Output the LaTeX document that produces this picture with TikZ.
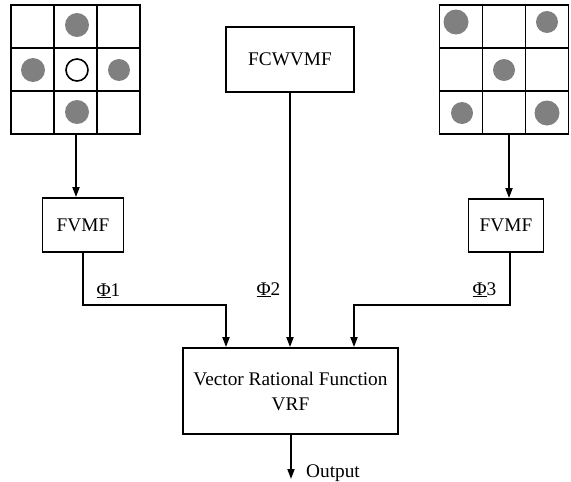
\documentclass[tikz,border=0pt]{standalone}
\usepackage{fontspec}
\setmainfont{Liberation Serif}
\usetikzlibrary{arrows.meta, positioning}
\definecolor{dotgray}{RGB}{128,128,128}

\begin{document}
\begin{tikzpicture}[x=1pt, y=-1pt, every node/.style={font=\fontsize{19.3}{25}\selectfont},
    block/.style={draw, line width=1.8pt, align=center, inner sep=2pt},
    gridbox/.style={draw, line width=1.8pt, minimum size=129pt, inner sep=0pt},
    gridline/.style={line width=1.8pt},
    flow/.style={line width=1.8pt, -{Triangle[length=10pt, width=7pt]}}]
    \useasboundingbox (0,0) rectangle (571,482);

    % the two 3x3 windows
    \node[gridbox] (lgrid) at (75.5,69.5) {};
    \node[gridbox] (rgrid) at (504,69.5) {};
    \foreach \g in {lgrid, rgrid}
        \foreach \d in {-21.5, 21.5} {
            \draw[gridline] ([xshift=\d pt]\g.north) -- ([xshift=\d pt]\g.south);
            \draw[gridline] ([yshift=\d pt]\g.west) -- ([yshift=\d pt]\g.east);
        }
    \fill[dotgray] (77,25) circle (12pt) (33,70) circle (12pt) (119,70) circle (11pt) (77,112) circle (12pt);
    \draw[line width=1.6pt] (77,70) circle (11pt);
    \fill[dotgray] (456,22) circle (12.5pt) (547,22) circle (11pt) (504,70) circle (11pt)
        (462,113) circle (11pt) (547,113) circle (12.5pt);

    \node[block, minimum width=81pt, minimum height=54pt] (lfvmf) at (83,225) {FVMF};
    \node[block, minimum width=75pt, minimum height=53pt] (rfvmf) at (506,225.5) {FVMF};
    \node[block, minimum width=128pt, minimum height=65pt] (fcw) at (290,59.5) {FCWVMF};
    \node[block, minimum width=215pt, minimum height=86pt] (vrf) at (290.5,391) {Vector Rational Function\\VRF};

    \node[anchor=base] (phione) at (108.5,296) {\underline{Φ}1};
    \node[anchor=base] (phitwo) at (268.5,295) {\underline{Φ}2};
    \node[anchor=base] (phithree) at (484.5,295) {\underline{Φ}3};
    \node[anchor=base west, inner sep=0pt] (outlbl) at (306,477) {Output};

    \coordinate (ljoin) at (226,305);
    \coordinate (rjoin) at (354,305);
    \coordinate (out) at (291,479);

    \draw[flow] ([xshift=0.5pt]lgrid.south) -- ([xshift=0.5pt]lgrid.south |- lfvmf.north);
    \draw[flow] ([xshift=5pt]rgrid.south) -- ([xshift=5pt]rgrid.south |- rfvmf.north);
    \draw[flow] (lfvmf.south) |- (ljoin) -- (ljoin |- vrf.north);
    \draw[flow] ([xshift=4pt]rfvmf.south) |- (rjoin) -- (rjoin |- vrf.north);
    \draw[flow] (fcw.south) -- (fcw.south |- vrf.north);
    \draw[flow] (vrf.south -| out) -- (out);
\end{tikzpicture}
\end{document}
